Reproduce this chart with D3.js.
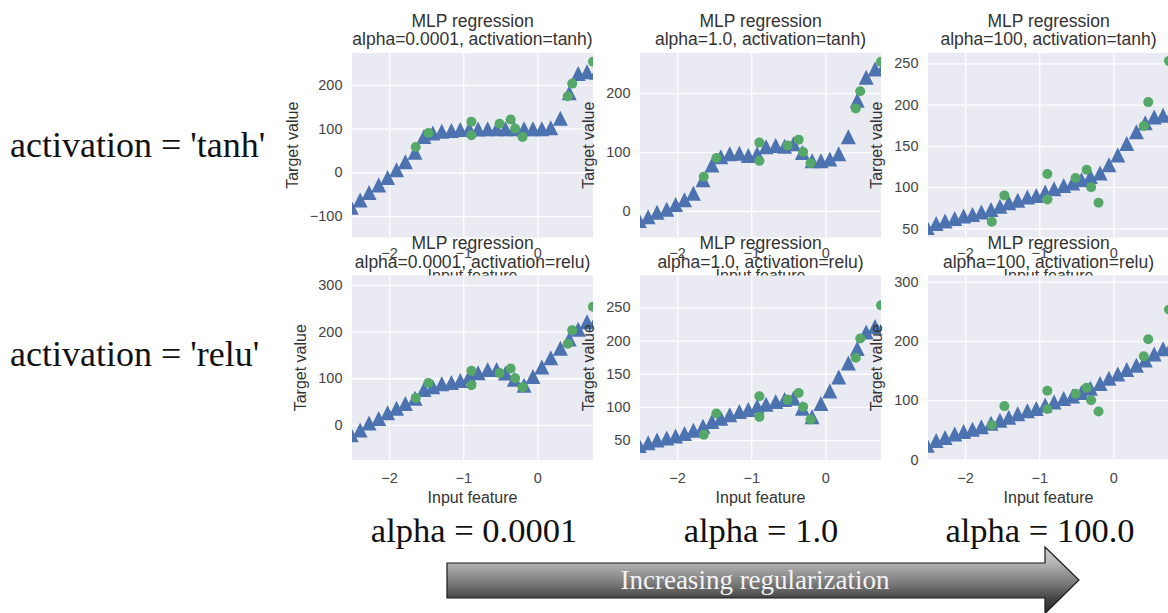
<!DOCTYPE html>
<html><head><meta charset="utf-8">
<script src="https://cdn.jsdelivr.net/npm/d3@7"></script>
<style>body{margin:0;background:#fff;} svg{display:block;}</style>
</head><body>
<svg id="c" width="1168" height="613"></svg>
<script>
// ---------- data ----------
const xPredict = [-2.51, -2.39, -2.27, -2.14, -2.02, -1.90, -1.78, -1.65, -1.53, -1.41, -1.29, -1.16, -1.04, -0.92,
                  -0.80, -0.67, -0.55, -0.43, -0.31, -0.18, -0.06, 0.06, 0.18, 0.31, 0.43, 0.55, 0.67, 0.80];
const xTrain = [-1.64, -1.47, -0.89, -0.89, -0.51, -0.36, -0.30, -0.20, 0.41, 0.47, 0.75];
const yTrain = [58, 90, 116, 85, 111, 121, 100, 81, 174, 203, 253];

const tanh_0001 = [-80, -63, -46, -29, -12, 6, 24, 46, 82, 90, 94, 96, 98, 99, 99, 100, 100, 100, 100, 100, 100, 100, 102, 124, 182, 226, 230, 229];
const tanh_1    = [-16, -10, -2, 3, 11, 19, 30, 53, 78, 92, 97, 98, 94, 97, 109, 111, 110, 114, 99, 85, 85, 88, 97, 126, 188, 227, 241, 248];
const tanh_100  = [51, 56, 59, 62, 65, 67, 70, 73, 77, 81, 84, 88, 90, 94, 98, 102, 105, 109, 113, 117, 127, 139, 153, 167, 178, 185, 187, 190];
const relu_0001 = [-21, -11, 4, 14, 26, 36, 46, 57, 76, 82, 88, 91, 95, 104, 112, 119, 119, 111, 98, 85, 104, 124, 144, 164, 184, 205, 221, 226];
const relu_1    = [42, 46, 50, 53, 56, 60, 65, 71, 78, 83, 88, 93, 96, 101, 104, 108, 111, 113, 98, 85, 105, 124, 145, 166, 188, 213, 221, 225];
const relu_100  = [24, 32, 37, 43, 47, 51, 55, 61, 66, 71, 77, 82, 86, 92, 97, 103, 107, 113, 120, 128, 137, 144, 152, 159, 168, 178, 187, 196];

const activations = ["tanh", "relu"];
const alphaTitles = ["0.0001", "1.0", "100"];
const alphaCaptions = ["alpha = 0.0001", "alpha = 1.0", "alpha = 100.0"];
const rowCaptions = ["activation = 'tanh'", "activation = 'relu'"];
const arrowText = "Increasing regularization";
const xLabel = "Input feature";
const yLabel = "Target value";
const titleLine1 = "MLP regression";

const xDomain = [-2.5, 0.75];
const xTicks = [-2, -1, 0];
const yDomains = [[[-149, 273], [-45, 268], [39, 262.5]],
                  [[-75, 320], [20, 298], [-1, 310.5]]];
const yTicks = [[[-100, 0, 100, 200], [0, 100, 200], [50, 100, 150, 200, 250]],
                [[0, 100, 200, 300], [50, 100, 150, 200, 250], [0, 100, 200, 300]]];
const predictions = [[tanh_0001, tanh_1, tanh_100], [relu_0001, relu_1, relu_100]];

// ---------- layout ----------
const lefts = [352, 640, 928], tops = [53, 275.5];
const PW = 241, PH = 184.5;
const xPad = [10.5, 12.7];
const SANS = "'Liberation Sans', Arial, sans-serif";
const SERIF = "'Liberation Serif', 'Times New Roman', serif";
const BLUE = "#4C72B0", GREEN = "#55A868";
const TRI = 15, CR = 5;

const svg = d3.select("#c");
const defs = svg.append("defs");

const fmt = d3.format("d");
let idx = 0;
for (let r = 0; r < 2; r++) {
  for (let c = 0; c < 3; c++) {
    const i = idx++;
    const x0 = lefts[c], y0 = tops[r];
    const x = d3.scaleLinear().domain(xDomain).range([x0, x0 + PW]);
    const y = d3.scaleLinear().domain(yDomains[r][c]).range([y0 + PH, y0]);
    const g = svg.append("g");

    defs.append("clipPath").attr("id", "clip" + i)
      .append("rect").attr("x", x0).attr("y", y0).attr("width", PW).attr("height", PH);

    g.append("rect").attr("x", x0).attr("y", y0).attr("width", PW).attr("height", PH).attr("fill", "#EAEAF2");

    // y axis + grid
    const gy = g.append("g").attr("transform", `translate(${x0},0)`)
      .call(d3.axisLeft(y).tickValues(yTicks[r][c]).tickSize(-PW).tickPadding(9.5).tickFormat(fmt));
    gy.select(".domain").remove();
    gy.selectAll("line").attr("stroke", "#fff").attr("stroke-width", 1.3);
    gy.attr("font-family", SANS).attr("font-size", 14.5);
    gy.selectAll("text").attr("fill", "#444");

    // x axis + grid
    const gx = g.append("g").attr("transform", `translate(0,${y0 + PH})`)
      .call(d3.axisBottom(x).tickValues(xTicks).tickSize(-PH).tickPadding(xPad[r]).tickFormat(fmt));
    gx.select(".domain").remove();
    gx.selectAll("line").attr("stroke", "#fff").attr("stroke-width", 1.3);
    gx.attr("font-family", SANS).attr("font-size", 14.5);
    gx.selectAll("text").attr("fill", "#444");

    // data
    const data = g.append("g").attr("clip-path", `url(#clip${i})`);
    const pred = predictions[r][c];
    const triPath = `M0,${-TRI / 2}L${TRI / 2},${TRI / 2}L${-TRI / 2},${TRI / 2}Z`;
    data.selectAll("path.tri").data(xPredict).join("path").attr("class", "tri")
      .attr("d", triPath)
      .attr("transform", (d, k) => `translate(${x(d)},${y(pred[k])})`)
      .attr("fill", BLUE);
    data.selectAll("circle").data(xTrain).join("circle")
      .attr("cx", d => x(d)).attr("cy", (d, k) => y(yTrain[k])).attr("r", CR)
      .attr("fill", GREEN);

    // labels
    let maxW = 0;
    gy.selectAll("text").each(function () { maxW = Math.max(maxW, this.getBBox().width); });
    g.append("text").attr("transform", `translate(${x0 - 9.5 - maxW - 12},${y0 + PH / 2}) rotate(-90)`)
      .attr("text-anchor", "middle").attr("font-family", SANS).attr("font-size", 16).attr("fill", "#333")
      .text(yLabel);
    g.append("text").attr("x", x0 + PW / 2).attr("y", y0 + PH + 43)
      .attr("text-anchor", "middle").attr("font-family", SANS).attr("font-size", 16).attr("fill", "#333")
      .text(xLabel);
    const t = g.append("text").attr("text-anchor", "middle").attr("font-family", SANS)
      .attr("font-size", 17.5).attr("fill", "#333");
    t.append("tspan").attr("x", x0 + PW / 2).attr("y", y0 - 26.5).text(titleLine1);
    t.append("tspan").attr("x", x0 + PW / 2).attr("y", y0 - 8)
      .text(`alpha=${alphaTitles[c]}, activation=${activations[r]})`);
  }
}

// row captions
const rowBase = [157, 366];
svg.selectAll("text.rowcap").data(rowCaptions).join("text").attr("class", "rowcap")
  .attr("x", 10).attr("y", (d, k) => rowBase[k])
  .attr("font-family", SERIF).attr("font-size", 36).attr("fill", "#111").text(d => d);

// column captions
const colCenters = [474, 761, 1040];
svg.selectAll("text.colcap").data(alphaCaptions).join("text").attr("class", "colcap")
  .attr("x", (d, k) => colCenters[k]).attr("y", 542)
  .attr("text-anchor", "middle")
  .attr("font-family", SERIF).attr("font-size", 34.5).attr("fill", "#111").text(d => d);

// arrow
const grad = defs.append("linearGradient").attr("id", "arrowGrad")
  .attr("gradientUnits", "userSpaceOnUse").attr("x1", 0).attr("y1", 547).attr("x2", 0).attr("y2", 613);
[[0, "#d2d2d2"], [0.25, "#b2b2b2"], [0.55, "#7a7a7a"], [0.78, "#444"], [1, "#2c2c2c"]]
  .forEach(([o, col]) => grad.append("stop").attr("offset", o).attr("stop-color", col));
const ap = d3.path();
ap.moveTo(447, 563); ap.lineTo(1045, 563); ap.lineTo(1045, 547); ap.lineTo(1079, 580);
ap.lineTo(1045, 613.5); ap.lineTo(1045, 598); ap.lineTo(447, 598); ap.closePath();
svg.append("path").attr("d", ap.toString()).attr("fill", "url(#arrowGrad)")
  .attr("stroke", "#1a1a1a").attr("stroke-width", 1.2);
svg.append("text").attr("x", 755).attr("y", 589).attr("text-anchor", "middle")
  .attr("font-family", SERIF).attr("font-size", 27).attr("fill", "#f4f4f4").text(arrowText);
</script>
</body></html>
